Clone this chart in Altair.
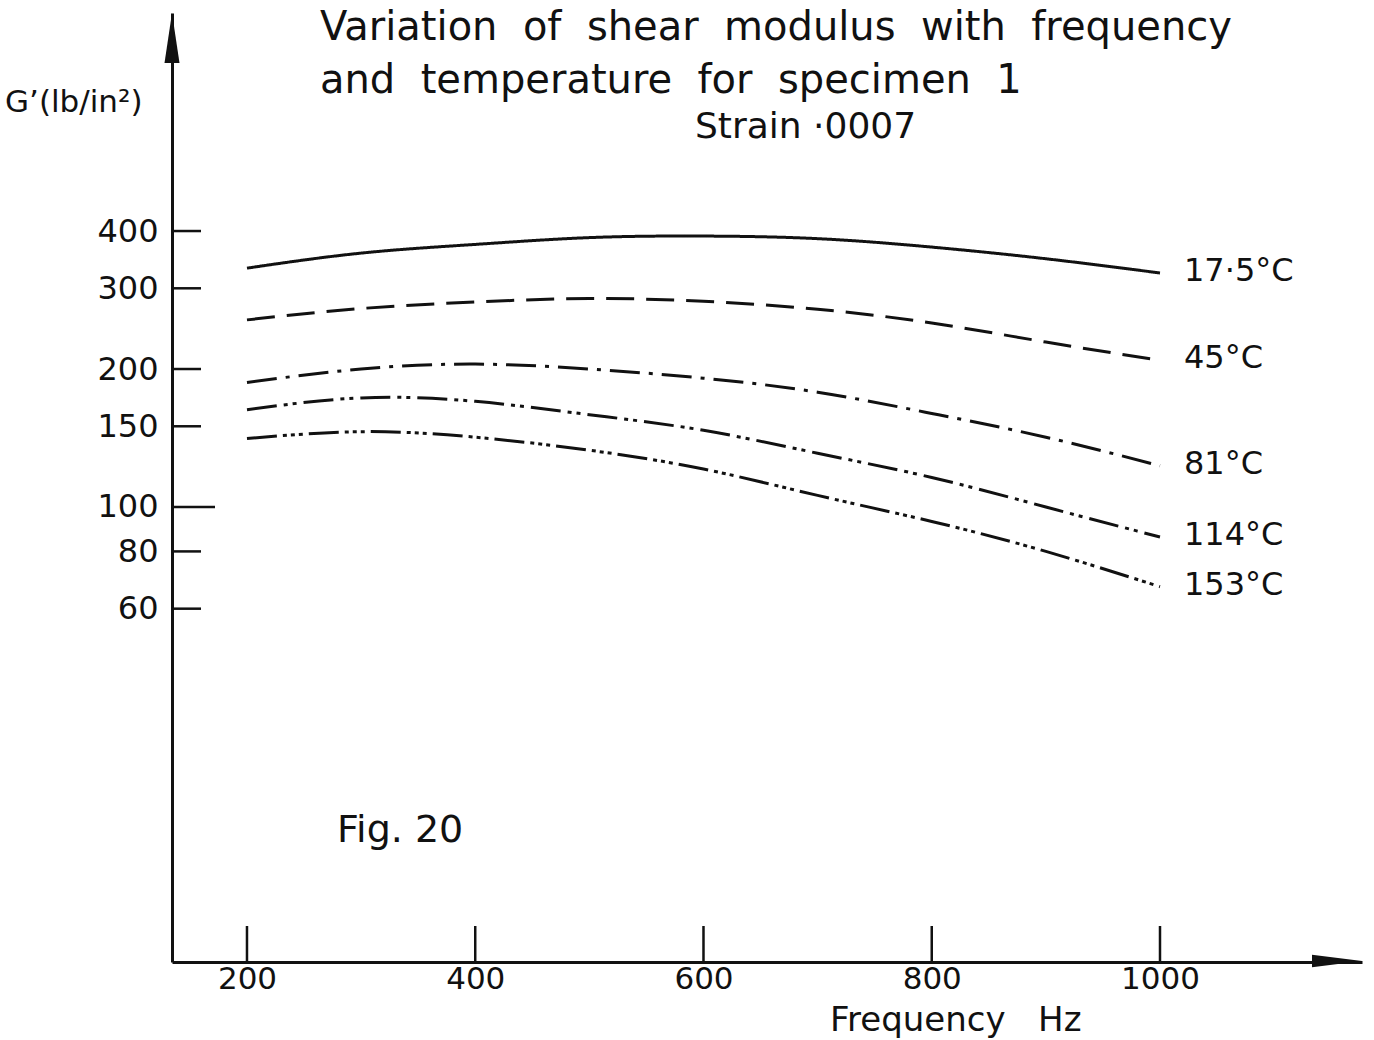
import altair as alt
import pandas as pd

# ---------------- data ----------------
freq = [200, 300, 400, 500, 600, 700, 800, 900, 1000]
g_17_5 = [332, 358, 374, 387, 390, 385, 369, 348, 324]
g_45 = [256, 271, 280, 285, 281, 270, 252, 229, 209]
g_81 = [187, 200, 205, 200, 191, 178, 160, 142, 123]
g_114 = [163, 173, 170, 159, 147, 131, 116, 100, 86]
g_153 = [141, 146, 142, 133, 121, 106, 93, 80, 67]
series_labels = ["17·5°C", "45°C", "81°C", "114°C", "153°C"]
y_tick_values = [60, 80, 100, 150, 200, 300, 400]
x_tick_values = [200, 400, 600, 800, 1000]

title_1 = "Variation \u00a0of \u00a0shear \u00a0modulus \u00a0with \u00a0frequency"
title_2 = "and \u00a0temperature \u00a0for \u00a0specimen \u00a01"
subtitle = "Strain ·0007"
fig_label = "Fig. 20"
y_title = "G’(lb/in²)"
x_title = "Frequency\u00a0\u00a0\u00a0Hz"

# ---------------- tables ----------------
all_series = [g_17_5, g_45, g_81, g_114, g_153]
rows = []
for lab, vals in zip(series_labels, all_series):
    for f, g in zip(freq, vals):
        rows.append({"series": lab, "freq": f, "g": g})
df = pd.DataFrame(rows)
df_end = df[df["freq"] == freq[-1]]

FONT = "DejaVu Sans"
INK = "#111111"
W, H = 1190, 949

xs = alt.Scale(domain=[134.3, 1177], nice=False, zero=False)
ys = alt.Scale(type="log", domain=[10.17, 1196], nice=False)

dashes = [[1, 0], [28, 12], [30, 9, 4, 9], [30, 7, 4, 5, 4, 7], [30, 6, 4, 4, 4, 4, 4, 6]]

x_axis = alt.Axis(values=x_tick_values, ticks=False, grid=False, title=None,
                  domainColor=INK, domainWidth=3, labelFont=FONT, labelFontSize=31,
                  labelColor=INK, labelPadding=2, format="d")
y_axis = alt.Axis(values=y_tick_values, ticks=False, grid=False, title=None,
                  domainColor=INK, domainWidth=3, labelFont=FONT, labelFontSize=32,
                  labelColor=INK, labelPadding=14, format="d")


def X(field):
    return alt.X(field, scale=xs, axis=x_axis)


def Y(field):
    return alt.Y(field, scale=ys, axis=y_axis)


lines = alt.Chart(df).mark_line(color=INK, strokeWidth=3, interpolate="natural").encode(
    x=X("freq:Q"),
    y=Y("g:Q"),
    strokeDash=alt.StrokeDash("series:N", scale=alt.Scale(domain=series_labels, range=dashes), legend=None),
    detail="series:N",
)

end_labels = alt.Chart(df_end).mark_text(
    align="left", baseline="middle", dx=24, dy=-2, font=FONT, fontSize=32, color=INK
).encode(
    x=X("freq:Q"),
    y=Y("g:Q"),
    text="series:N",
)

ytick_df = pd.DataFrame({"g": y_tick_values})
y_ticks = alt.Chart(ytick_df).mark_rule(color=INK, strokeWidth=2.5).encode(
    y=Y("g:Q"),
    x=alt.value(0),
    x2=alt.value(29),
).transform_filter("datum.g != 100")
y_tick_100 = alt.Chart(ytick_df).mark_rule(color=INK, strokeWidth=2.5).encode(
    y=Y("g:Q"),
    x=alt.value(0),
    x2=alt.value(43),
).transform_filter("datum.g == 100")

xtick_df = pd.DataFrame({"freq": x_tick_values})
x_ticks = alt.Chart(xtick_df).mark_rule(color=INK, strokeWidth=2.5).encode(
    x=X("freq:Q"),
    y=alt.value(H),
    y2=alt.value(H - 36),
)

one = pd.DataFrame({"k": [0]})
arrow_up = alt.Chart(one).mark_point(
    shape="M0,-1L0.3,1L-0.3,1Z", filled=True, color=INK, opacity=1, size=2500, strokeWidth=0
).encode(x=alt.value(0), y=alt.value(25))
arrow_right = alt.Chart(one).mark_point(
    shape="M1,0L-1,-0.25L-1,0.25Z", filled=True, color=INK, opacity=1, size=2500, strokeWidth=0
).encode(x=alt.value(W - 25), y=alt.value(H - 1))


def label(text, x, y, size, align="left"):
    return alt.Chart(pd.DataFrame({"t": [text]})).mark_text(
        align=align, baseline="alphabetic", font=FONT, fontSize=size, color=INK
    ).encode(text="t:N", x=alt.value(x), y=alt.value(y))


texts = [
    label(title_1, 148, 27, 40),
    label(title_2, 148, 80, 40),
    label(subtitle, 523, 125, 36),
    label(fig_label, 165, 829, 38),
    label(y_title, -167, 99, 31),
    label(x_title, 658, 1018, 34),
]

chart = alt.layer(
    lines, end_labels, y_ticks, y_tick_100, x_ticks, arrow_up, arrow_right, *texts
).properties(
    width=W, height=H,
    autosize=alt.AutoSizeParams(type="none"),
    padding={"left": 172, "top": 13, "right": 12, "bottom": 78},
    background="white",
).configure_view(stroke=None)

chart.save("out.html", embed_options={"renderer": "svg", "actions": False})
